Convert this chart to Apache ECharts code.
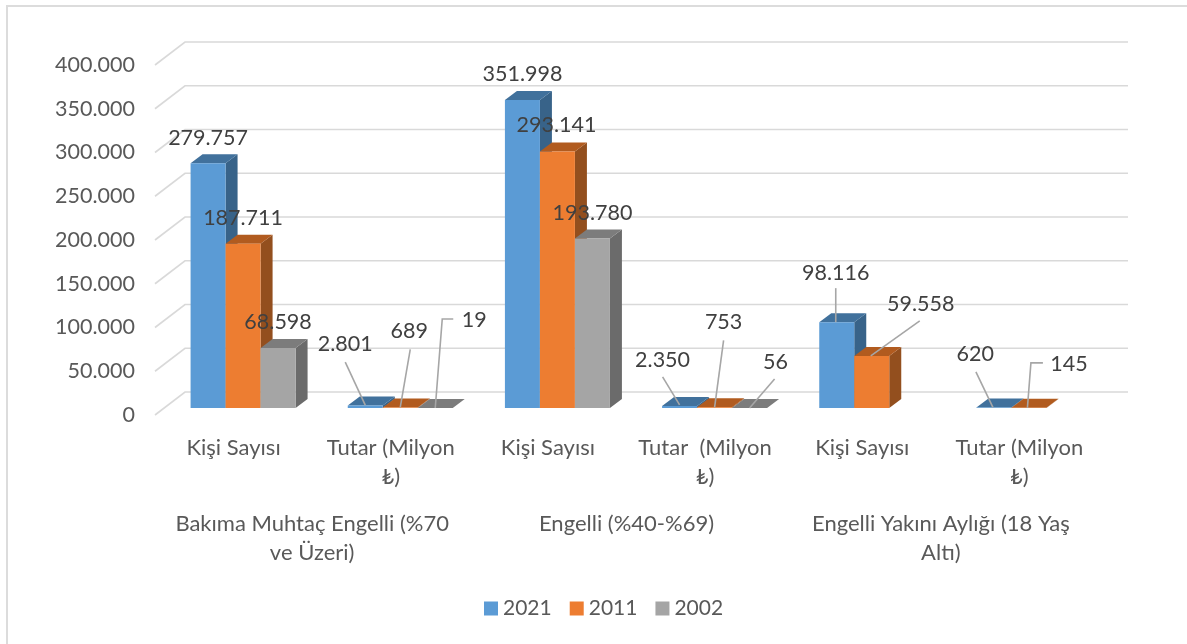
<!DOCTYPE html>
<html><head><meta charset="utf-8">
<style>html,body{margin:0;padding:0;background:#fff}#c{width:1187px;height:644px}</style>
<script src="https://cdn.jsdelivr.net/npm/echarts@6/dist/echarts.min.js"></script>
</head><body><div id="c"></div>
<script>
var categories = ['Kişi Sayısı','Tutar (Milyon\n₺)','Kişi Sayısı','Tutar  (Milyon\n₺)','Kişi Sayısı','Tutar (Milyon\n₺)'];
var groups = ['Bakıma Muhtaç Engelli (%70\nve Üzeri)','Engelli (%40-%69)','Engelli Yakını Aylığı (18 Yaş\nAltı)'];
var values2021 = [279757, 2801, 351998, 2350, 98116, 620];
var values2011 = [187711, 689, 293141, 753, 59558, 145];
var values2002 = [68598, 19, 193780, 56, null, null];
var yTicks = [0,50000,100000,150000,200000,250000,300000,350000,400000];

// Label placement relative to each bar's top-front centre: [labelDx, labelDy, leader polyline points]
var layout2021 = [[0,-25],[-20,-61.5,[-20,-43.5],[0,-.5]],[0,-26],[-17,-46,[-17,-29],[0,-1]],[-1,-49,[-1,-34],[-1,0]],[-18.6,-53.5,[-18,-35.5],[-1,0]]];
var layout2011 = [[0,-26],[9,-76,[10,-58],[0,0]],[-1,-26.5],[9,-85,[9,-67],[0,0]],[49,-52,[48,-35],[-1,0]],[40,-44,[14,-45],[2,-45],[-1.5,0]]];
var layout2002 = [[0,-26],[39,-88,[18,-89],[7,-89],[0,0]],[0,-25],[26,-46,[25,-29],[0,0]],null,null];

var FONT = 'Lato';
var BAR_W = 35, DEPTH_X = 12, DEPTH_Y = 9, SHIFT_X = 9.5, SHIFT_Y = 7, WALL_X = 30, WALL_Y = 23;
function fmt(v){ return String(v).replace(/\B(?=(\d{3})+(?!\d))/g,'.'); }

function barSeries(name, vals, lay, slot, front, top, side){
  var data = [];
  vals.forEach(function(v,i){ if(v!==null) data.push([i,v]); });
  return {
    type:'custom', name:name, itemStyle:{color:front}, z:3, clip:false,
    data:data, encode:{x:0,y:1},
    renderItem:function(params,api){
      var i = api.value(0), v = api.value(1);
      var p = api.coord([i,v]), b = api.coord([i,0]);
      var cx = p[0]+SHIFT_X+slot*BAR_W, ty = p[1]-SHIFT_Y, by = b[1]-SHIFT_Y;
      var l = cx-BAR_W/2, r = cx+BAR_W/2;
      var kids = [
        {type:'polygon',shape:{points:[[r,ty],[r+DEPTH_X,ty-DEPTH_Y],[r+DEPTH_X,by-DEPTH_Y],[r,by]]},style:{fill:side}},
        {type:'polygon',shape:{points:[[l,ty],[l+DEPTH_X,ty-DEPTH_Y],[r+DEPTH_X,ty-DEPTH_Y],[r,ty]]},style:{fill:top}},
        {type:'rect',shape:{x:l,y:ty,width:BAR_W,height:by-ty},style:{fill:front}}
      ];
      var L = lay[i];
      if(L.length>2){
        kids.push({type:'polyline',z2:90,shape:{points:L.slice(2).map(function(q){return [cx+q[0],ty+q[1]];})},style:{stroke:'#A6A6A6',lineWidth:1.6,fill:null}});
      }
      kids.push({type:'text',z2:100,x:cx+L[0],y:ty+L[1],style:{text:fmt(v),font:'21.5px '+FONT,fill:'#404040',align:'center',verticalAlign:'middle'}});
      return {type:'group',children:kids};
    }
  };
}

var wallSeries = {
  type:'custom', name:'wall', z:1, clip:false, silent:true,
  data:yTicks.map(function(t){return [0,t];}), encode:{y:1},
  renderItem:function(params,api){
    var cs = params.coordSys, y = api.coord([0,api.value(1)])[1];
    return {type:'polyline',shape:{points:[[cs.x,y],[cs.x+WALL_X,y-WALL_Y],[cs.x+cs.width+WALL_X,y-WALL_Y]]},style:{stroke:'#D9D9D9',lineWidth:1.6,fill:null}};
  }
};

var chart = echarts.init(document.getElementById('c'),null,{renderer:'canvas'});
chart.setOption({
  animation:false, backgroundColor:'#fff',
  textStyle:{fontFamily:FONT},
  grid:{left:155,top:65,width:943,height:350},
  legend:{data:['2021','2011','2002'],left:484,top:598,padding:0,icon:'rect',itemWidth:14,itemHeight:14,itemGap:18,
    textStyle:{fontFamily:FONT,fontSize:21,color:'#595959'}},
  xAxis:[
    {type:'category',data:categories,position:'bottom',axisLine:{show:false},axisTick:{show:false},
     axisLabel:{interval:0,margin:18,fontFamily:FONT,fontSize:22,lineHeight:29,color:'#595959'}},
    {type:'category',data:groups,position:'bottom',offset:94,axisLine:{show:false},axisTick:{show:false},
     axisLabel:{interval:0,margin:0,fontFamily:FONT,fontSize:22,lineHeight:29,color:'#595959'}}
  ],
  yAxis:{type:'value',min:0,max:400000,interval:50000,axisLine:{show:false},axisTick:{show:false},splitLine:{show:false},
    axisLabel:{margin:20,fontFamily:FONT,fontSize:21.5,color:'#595959',formatter:fmt}},
  graphic:[{type:'rect',shape:{x:7,y:6,width:1400,height:900},style:{fill:null,stroke:'#DCDCDC',lineWidth:2},silent:true}],
  series:[wallSeries,
    barSeries('2021',values2021,layout2021,-1,'#5B9BD5','#41719C','#386389'),
    barSeries('2011',values2011,layout2011,0,'#ED7D31','#B15B1F','#934F1E'),
    barSeries('2002',values2002,layout2002,1,'#A5A5A5','#7C7C7C','#6B6B6B')]
});
</script></body></html>
